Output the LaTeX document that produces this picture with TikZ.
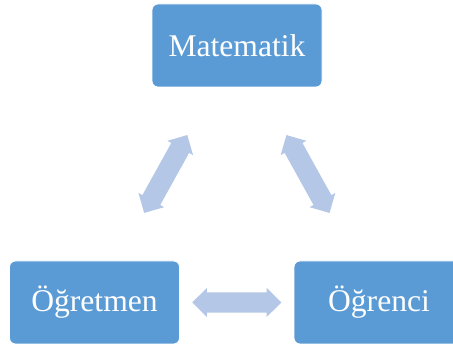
\documentclass[tikz,border=0pt]{standalone}
\usepackage{fontspec}
\setmainfont{Liberation Serif}
\usetikzlibrary{shapes.arrows,calc}
\definecolor{boxblue}{HTML}{5B9BD5}
\definecolor{arrowblue}{HTML}{B4C7E7}
\tikzset{
  box/.style={draw=white, line width=0.8pt, fill=boxblue, rounded corners=6pt,
    minimum width=170pt, minimum height=83pt, inner sep=0pt,
    text=white, font=\fontsize{31.6}{36}\selectfont},
  dblarrow/.style={double arrow, fill=arrowblue, draw=none, inner xsep=0pt, inner ysep=10pt,
    minimum width=29pt, minimum height=89pt,
    double arrow head extend=4.5pt, double arrow tip angle=90}
}
\begin{document}
\begin{tikzpicture}[x=1pt,y=-1pt]
\useasboundingbox (0,0) rectangle (453,347);
\node[box] (T) at (237,45.5) {Matematik};
\node[box] (L) at (94.5,302.5) {Öğretmen};
\node[box] (R) at (379,302.5) {Öğrenci};
\node[dblarrow, rotate=61] (a1) at ($(L)!0.5!(T)$) {};
\node[dblarrow, rotate=-61] (a2) at ($(T)!0.5!(R)$) {};
\node[dblarrow] (a3) at ($(L)!0.5!(R)$) {};
\end{tikzpicture}
\end{document}
